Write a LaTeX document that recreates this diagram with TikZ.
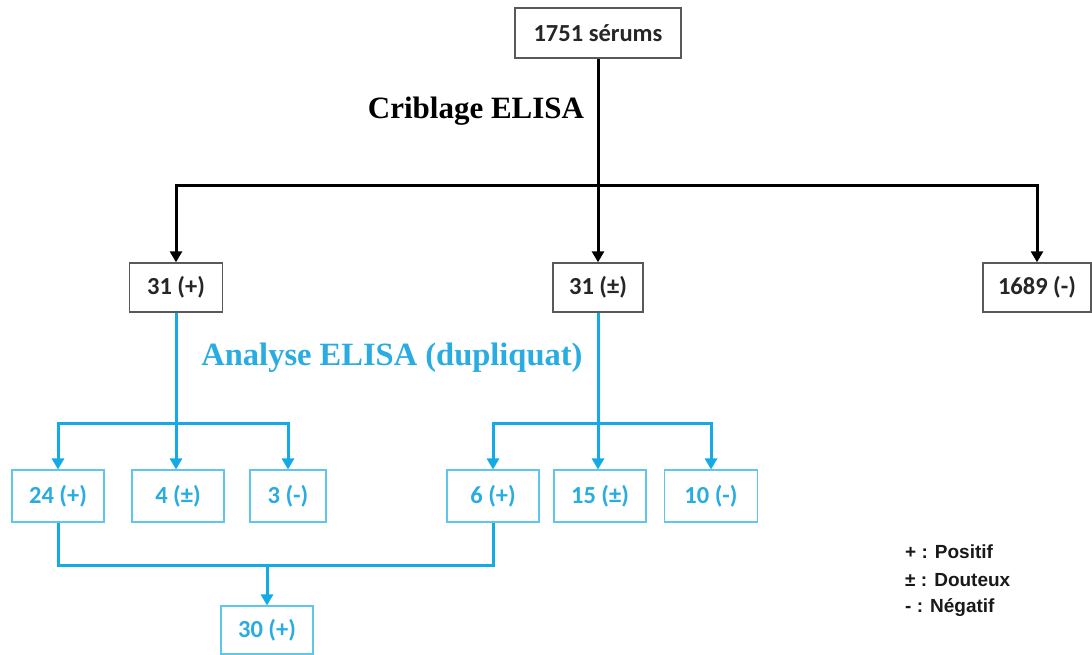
\documentclass[tikz,border=0pt]{standalone}
\usepackage{fontspec}
\setmainfont{Liberation Serif}
\newfontfamily\boxfont{Carlito}
\newfontfamily\legfont{Liberation Sans}
\usetikzlibrary{arrows.meta}
\definecolor{cyanline}{RGB}{20,170,230}
\definecolor{cyanbox}{RGB}{95,198,238}
\definecolor{cyantext}{RGB}{40,172,225}
\tikzset{
  box/.style={draw=black!65, line width=1.4pt, fill=white, inner sep=0pt,
    minimum height=49pt, text=black!85,
    font=\boxfont\bfseries\fontsize{24.5}{24.5}\selectfont},
  bluebox/.style={box, draw=cyanbox, line width=1.1pt, minimum height=52pt, text=cyantext},
  link/.style={line width=3pt, -{Triangle[width=12pt,length=11pt]}},
  bluelink/.style={link, draw=cyanline},
  blueline/.style={line width=3pt, draw=cyanline},
  legend/.style={anchor=west, inner sep=0pt, text=black!90,
    font=\legfont\bfseries\fontsize{19}{19}\selectfont}
}
\begin{document}
\begin{tikzpicture}[x=1pt,y=-1pt]
  \useasboundingbox (0,0) rectangle (1092,655);

  % screening
  \node[box, minimum width=166pt, minimum height=50pt] (sera) at (598,33) {1751 sérums};
  \node[font=\bfseries\fontsize{31}{31}\selectfont] (crib) at (476,111) {Criblage ELISA};
  \node[box, minimum width=93pt]  (pos) at (176,287.5) {31 (+)};
  \node[box, minimum width=90pt]  (dou) at (598,287.5) {31 (±)};
  \node[box, minimum width=108pt] (neg) at (1037,287.5) {1689 (-)};

  \coordinate (split) at (598,186);
  \draw[link] (sera.south) -- (dou.north);
  \draw[link] (split) -| (pos.north);
  \draw[link] (split) -| (neg.north);

  % duplicate analysis
  \node[text=cyantext, font=\bfseries\fontsize{32.5}{32.5}\selectfont] (dupl) at (392,358) {Analyse ELISA (dupliquat)};
  \node[bluebox, minimum width=92pt] (posA) at (58,496)  {24 (+)};
  \node[bluebox, minimum width=92pt] (douA) at (178,496) {4 (±)};
  \node[bluebox, minimum width=76pt] (negA) at (288,496) {3 (-)};
  \node[bluebox, minimum width=92pt] (posB) at (493,496) {6 (+)};
  \node[bluebox, minimum width=92pt] (douB) at (600,496) {15 (±)};
  \node[bluebox, minimum width=93pt] (negB) at (711,496) {10 (-)};

  \coordinate (splitA) at (176,423);
  \coordinate (splitB) at (598,423);
  \draw[bluelink] (pos.south) -- (pos.south |- douA.north);
  \draw[bluelink] (splitA) -| (posA.north);
  \draw[bluelink] (splitA) -| (negA.north);
  \draw[bluelink] (dou.south) -- (dou.south |- douB.north);
  \draw[bluelink] (splitB) -| (posB.north);
  \draw[bluelink] (splitB) -| (negB.north);

  % positives together
  \node[bluebox, minimum width=92pt, minimum height=48pt] (posAll) at (267,630) {30 (+)};
  \coordinate (merge) at (267,565);
  \draw[blueline] (posA.south) |- (merge) -| (posB.south);
  \draw[bluelink] (merge) -- (posAll.north);

  % legend
  \node[legend] (legP) at (905,552) {+ : Positif};
  \node[legend] (legD) at (905,580) {± : Douteux};
  \node[legend] (legN) at (905,608) {- : Négatif};

\end{tikzpicture}
\end{document}
